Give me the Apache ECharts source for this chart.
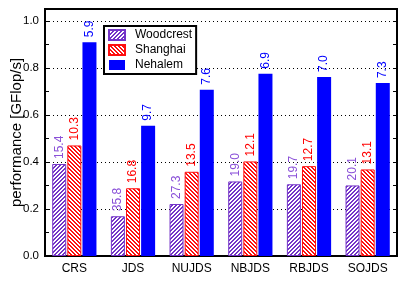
<!DOCTYPE html>
<html><head><meta charset="utf-8">
<script src="https://cdn.jsdelivr.net/npm/echarts@6/dist/echarts.min.js"></script>
<style>html,body{margin:0;padding:0;background:#fff}#c{width:407px;height:292px}</style>
</head><body><div id="c"></div>
<script>
const categories = ["CRS","JDS","NUJDS","NBJDS","RBJDS","SOJDS"];
const seriesNames = ["Woodcrest","Shanghai","Nehalem"];
const woodcrest = [0.391,0.169,0.221,0.317,0.305,0.300];
const shanghai  = [0.470,0.288,0.358,0.402,0.382,0.368];
const nehalem   = [0.909,0.554,0.707,0.775,0.761,0.735];
const woodcrestLabels = ["15.4","35.8","27.3","19.0","19.7","20.1"];
const shanghaiLabels  = ["10.3","16.8","13.5","12.1","12.7","13.1"];
const nehalemLabels   = ["5.9","9.7","7.6","6.9","7.0","7.3"];
const yTicks = [0.0,0.2,0.4,0.6,0.8,1.0];

const PURPLE = '#7434c8', RED = '#ff1010', BLUE = '#0000ff';
const FONT = 'Liberation Sans, Arial, sans-serif';

function stripes(color, dir){
  const n = 4, cv = document.createElement('canvas');
  cv.width = n; cv.height = n;
  const ctx = cv.getContext('2d');
  ctx.fillStyle = '#fff'; ctx.fillRect(0,0,n,n);
  ctx.fillStyle = color;
  for (let x=0;x<n;x++) for (let y=0;y<n;y++){
    const k = dir > 0 ? (x+y)%n : ((x-y)%n+n)%n;
    if (k===0 || k===1) ctx.fillRect(x,y,1,1);
  }
  return {image: cv, repeat: 'repeat'};
}

function mkSeries(name, data, labels, fill, border, labelColor){
  return {
    name, type:'bar', data, barWidth:14, barGap:'8%',
    itemStyle:{color:fill, borderColor:border, borderWidth: border ? 1 : 0},
    label:{show:true, position:'top', rotate:90, align:'left', verticalAlign:'middle',
      distance:5, color:labelColor, fontSize:12, fontFamily:FONT,
      formatter: p => labels[p.dataIndex]}
  };
}

const chart = echarts.init(document.getElementById('c'), null, {renderer:'canvas'});
chart.setOption({
  animation:false,
  textStyle:{fontFamily:FONT},
  grid:{left:45, right:10, top:9, bottom:36, containLabel:false, outerBoundsMode:'none',
    show:true, borderColor:'#000', borderWidth:2, backgroundColor:'transparent'},
  legend:{
    data:seriesNames, left:104, top:26, orient:'vertical',
    borderColor:'#000', borderWidth:2, padding:[3,4,3,4], itemGap:3,
    itemWidth:16, itemHeight:10, icon:'rect',
    textStyle:{fontSize:12, color:'#000', fontFamily:FONT, lineHeight:12, padding:[0,0,0,5]},
    backgroundColor:'#fff'
  },
  xAxis:{type:'category', data:categories,
    axisLine:{lineStyle:{color:'#000', width:2}}, axisTick:{show:false},
    axisLabel:{color:'#000', fontSize:12, fontFamily:FONT, margin:7}},
  yAxis:[{type:'value', min:0, max:1.05, interval:0.2,
    name:'performance [GFlop/s]', nameLocation:'middle', nameGap:21, nameMoveOverlap:false,
    nameTextStyle:{fontSize:15, color:'#000', fontFamily:FONT},
    axisLine:{show:true, lineStyle:{color:'#000', width:2}},
    axisTick:{show:true, inside:true, length:4, lineStyle:{color:'#000'}},
    minorTick:{show:true, splitNumber:2, length:4, lineStyle:{color:'#000'}},
    axisLabel:{color:'#000', fontSize:11.5, fontFamily:FONT, margin:6, showMaxLabel:false,
      formatter: v => { const t = yTicks.find(x => Math.abs(x-v)<1e-6); return t===undefined ? '' : t.toFixed(1); }},
    splitLine:{show:true, lineStyle:{color:'#000', type:[1,3], width:1}}
  },{type:'value', min:0, max:1.05, interval:0.2, position:'right',
    axisLine:{show:true, lineStyle:{color:'#000', width:2}},
    axisTick:{show:true, inside:true, length:4, lineStyle:{color:'#000'}},
    minorTick:{show:true, splitNumber:2, length:4, lineStyle:{color:'#000'}},
    axisLabel:{show:false}, splitLine:{show:false}}],
  series:[
    mkSeries('Woodcrest', woodcrest, woodcrestLabels, stripes(PURPLE, 1), PURPLE, '#8a50d8'),
    mkSeries('Shanghai', shanghai, shanghaiLabels, stripes(RED, -1), RED, '#ff0000'),
    mkSeries('Nehalem', nehalem, nehalemLabels, BLUE, null, BLUE)
  ]
});
</script></body></html>
